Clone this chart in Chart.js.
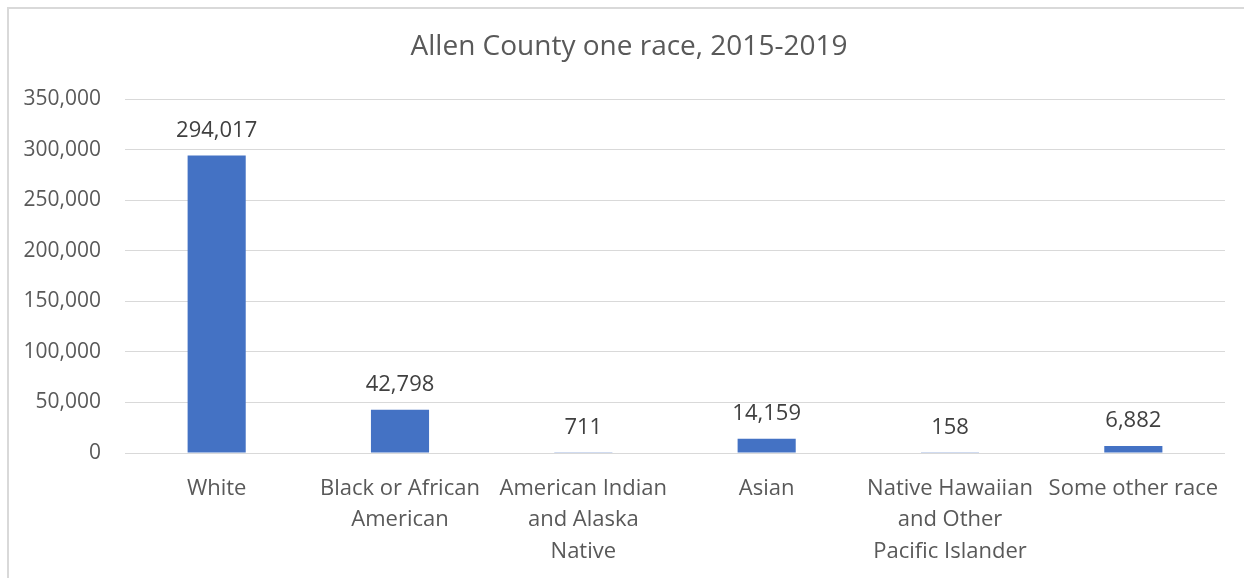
<!DOCTYPE html>
<html>
<head>
<meta charset="utf-8">
<script src="https://cdn.jsdelivr.net/npm/chart.js@4.4.1/dist/chart.umd.min.js"></script>
<style>
  html, body { margin: 0; padding: 0; background: #fff; }
  #wrap { position: relative; width: 1244px; height: 578px; overflow: hidden; }
  #frame { position: absolute; left: 7px; top: 7px; width: 1250px; height: 600px;
           border-left: 2px solid #d9d9d9; border-top: 2px solid #d9d9d9; }
  canvas { position: absolute; left: 0; top: 0; }
</style>
</head>
<body>
<div id="wrap">
  <div id="frame"></div>
  <canvas id="raceChart" width="1244" height="578"></canvas>
</div>
<script>
const categories = [
  'White',
  ['Black or African', 'American'],
  ['American Indian', 'and Alaska', 'Native'],
  'Asian',
  ['Native Hawaiian', 'and Other', 'Pacific Islander'],
  'Some other race'
];
const population = [294017, 42798, 711, 14159, 158, 6882];
const yTicks = [0, 50000, 100000, 150000, 200000, 250000, 300000, 350000];
const chartTitle = 'Allen County one race, 2015-2019';

const FONT = '"Open Sans", "Noto Sans", sans-serif';

// title is centred on the whole frame, not just the plot
const frameTitle = {
  id: 'frameTitle',
  afterDraw(chart) {
    const ctx = chart.ctx;
    ctx.save();
    ctx.font = '28px ' + FONT;
    ctx.fillStyle = '#595959';
    ctx.textAlign = 'center';
    ctx.textBaseline = 'middle';
    ctx.fillText(chartTitle, 629, 47);
    ctx.restore();
  }
};

// value labels sit above each bar, Excel style
const barLabels = {
  id: 'barLabels',
  afterDatasetsDraw(chart) {
    const ctx = chart.ctx;
    const meta = chart.getDatasetMeta(0);
    ctx.save();
    ctx.font = '22px ' + FONT;
    ctx.fillStyle = '#404040';
    ctx.textAlign = 'center';
    ctx.textBaseline = 'middle';
    meta.data.forEach((bar, i) => {
      ctx.fillText(population[i].toLocaleString('en-US'), bar.x, bar.y - 25);
    });
    ctx.restore();
  }
};

const chart = new Chart(document.getElementById('raceChart'), {
  type: 'bar',
  data: {
    labels: categories,
    datasets: [{
      label: 'Population',
      data: population,
      backgroundColor: '#4472c4',
      barPercentage: 1,
      categoryPercentage: 0.317
    }]
  },
  options: {
    responsive: false,
    animation: false,
    layout: { padding: { left: 0, right: 19, top: 99, bottom: 0 } },
    plugins: {
      legend: { display: false },
      tooltip: { enabled: false },
      title: { display: false }
    },
    scales: {
      x: {
        grid: { display: false, drawTicks: false },
        border: { display: false },
        ticks: {
          color: '#595959',
          font: { family: FONT, size: 22, lineHeight: 1.43 },
          padding: 20,
          maxRotation: 0,
          autoSkip: false
        },
        afterFit(scale) { scale.height = 125; }
      },
      y: {
        min: 0,
        max: 350000,
        afterBuildTicks(scale) { scale.ticks = yTicks.map(v => ({ value: v })); },
        grid: { color: '#d9d9d9', lineWidth: 1, drawTicks: false },
        border: { display: false },
        ticks: {
          color: '#595959',
          font: { family: FONT, size: 21 },
          padding: 24,
          callback: v => v.toLocaleString('en-US')
        },
        afterFit(scale) { scale.width = 125; }
      }
    }
  },
  plugins: [barLabels, frameTitle]
});
</script>
</body>
</html>
